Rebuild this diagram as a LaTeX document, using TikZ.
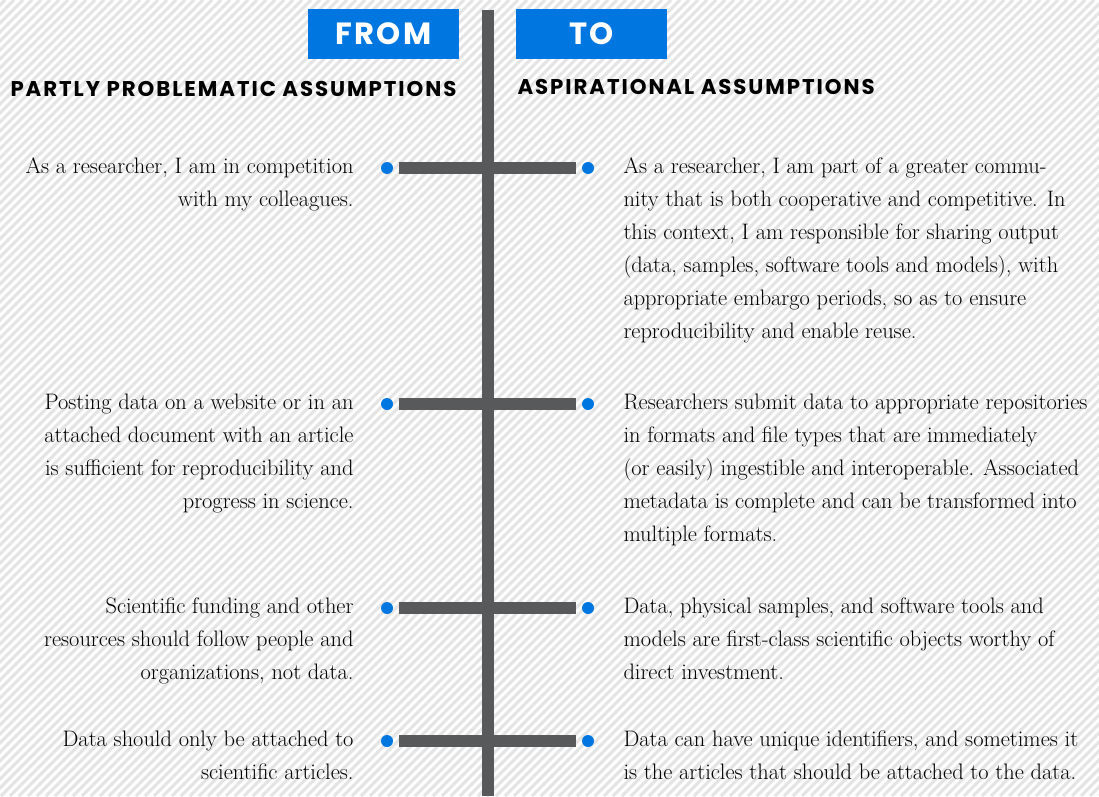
\documentclass[tikz,border=0pt]{standalone}
\usepackage{fontspec}
\newfontfamily\headfont{Poppins}[LetterSpace=9]
\newfontfamily\tagfont{Poppins}[LetterSpace=8]

\definecolor{tagblue}{RGB}{0,119,224}
\definecolor{bargray}{RGB}{88,89,91}
\definecolor{stripegray}{RGB}{228,228,228}

\tikzset{every picture/.style={line width=0.75pt}}
\tikzset{
  tag/.style={fill=tagblue, text=white, inner sep=0pt, minimum width=113.25pt,
    minimum height=37.5pt, font=\tagfont\bfseries\fontsize{23}{23}\selectfont},
  heading/.style={anchor=base west, inner sep=0pt,
    font=\headfont\bfseries\fontsize{16}{18}\selectfont},
  dot/.style={circle, fill=tagblue, inner sep=0pt, minimum size=9pt},
  bar/.style={draw=bargray, line width=9pt},
  fromtext/.style={anchor=base east, align=right, inner sep=0pt,
    font=\fontsize{16.8}{24.75}\selectfont},
  totext/.style={anchor=base west, align=left, inner sep=0pt,
    font=\fontsize{16.8}{24.75}\selectfont},
}

\begin{document}
\begin{tikzpicture}[x=0.75pt,y=0.75pt,yscale=-1,xscale=1]
\path[use as bounding box] (0,0) rectangle (1099,796);

%Background stripes
\fill[white] (0,0) rectangle (1099,796);
\begin{scope}
\clip (0,0) rectangle (1099,796);
\foreach \s in {-800,-791,...,1100}
  \draw[stripegray, line width=2.2pt] (\s,796) -- (\s+796,0);
\end{scope}

%Timeline spine
\coordinate (spinetop) at (488,10);
\coordinate (spinebot) at (488,796);
\draw[bar] (spinetop) -- (spinebot);

%Tags
\node[tag] (from) at (383.5,33.5) {FROM};
\node[tag] (to) at (591.5,33.5) {TO};

% Text Node
\node[heading] (fromhead) at (10,96.5) {PARTLY PROBLEMATIC ASSUMPTIONS};
% Text Node
\node[heading] (tohead) at (517,94) {ASPIRATIONAL ASSUMPTIONS};

%Branches
\foreach \y/\n in {168/1,404/2,608/3,741/4}{
  \node[dot] (l\n) at (387,\y) {};
  \node[dot] (r\n) at (588,\y) {};
  \draw[bar, shorten <=4.3pt, shorten >=4pt] (l\n) -- (r\n);
}

%Text nodes sit on the baseline of their last line (33 per line)
% Text Node
\node[fromtext] (from1) at (354,206) {As a researcher, I am in competition\\with my colleagues.};
% Text Node
\node[totext] (to1) at (623,338) {As a researcher, I am part of a greater commu-\\nity that is both cooperative and competitive. In\\this context, I am responsible for sharing output\\(data, samples, software tools and models), with\\appropriate embargo periods, so as to ensure\\reproducibility and enable reuse.};
% Text Node
\node[fromtext] (from2) at (354,508) {Posting data on a website or in an\\attached document with an article\\is sufficient for reproducibility and\\progress in science.};
% Text Node
\node[totext] (to2) at (623,541) {Researchers submit data to appropriate repositories\\in formats and file types that are immediately\\(or easily) ingestible and interoperable. Associated\\metadata is complete and can be transformed into\\multiple formats.};
% Text Node
\node[fromtext] (from3) at (354,679) {Scientific funding and other\\resources should follow people and\\organizations, not data.};
% Text Node
\node[totext] (to3) at (623,679) {Data, physical samples, and software tools and\\models are first-class scientific objects worthy of\\direct investment.};
% Text Node
\node[fromtext] (from4) at (354,779) {Data should only be attached to\\scientific articles.};
% Text Node
\node[totext] (to4) at (623,779) {Data can have unique identifiers, and sometimes it\\is the articles that should be attached to the data.};

\end{tikzpicture}
\end{document}
